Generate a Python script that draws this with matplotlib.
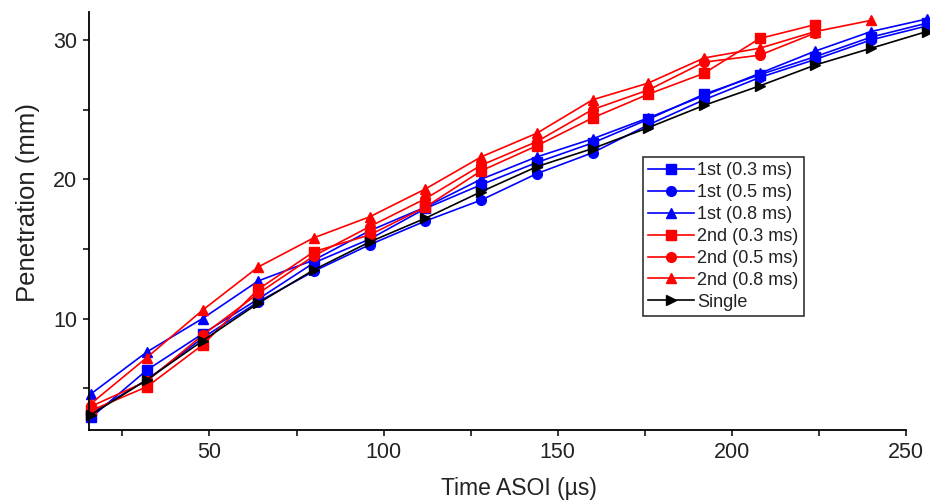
import numpy as np
import matplotlib
matplotlib.use('Agg')
import matplotlib.pyplot as plt
from matplotlib.ticker import MultipleLocator

plt.rcParams['font.family'] = ['Liberation Sans', 'DejaVu Sans']

# tiempos (us) y penetracion (mm)
tiempo = [16, 32, 48, 64, 80, 96, 112, 128, 144, 160, 176, 192, 208, 224, 240, 256]

pen_1st_03 = [2.9, 6.3, 8.9, 11.4, 14.0, 15.7, 17.9, 19.6, 21.2, 22.6, 24.3, 26.1, 27.5, 28.8, 30.2, 31.2]
pen_1st_05 = [3.2, 5.6, 8.6, 11.2, 13.4, 15.3, 17.0, 18.5, 20.4, 21.9, 23.9, 25.7, 27.3, 28.6, 30.0, 31.0]
pen_1st_08 = [4.6, 7.6, 10.0, 12.7, 14.2, 16.3, 18.0, 20.0, 21.6, 22.9, 24.4, 26.0, 27.6, 29.2, 30.6, 31.5]
pen_2nd_03 = [3.4, 5.1, 8.1, 12.1, 14.8, 16.0, 18.0, 20.6, 22.4, 24.4, 26.1, 27.6, 30.1, 31.1]
pen_2nd_05 = [3.7, 5.5, 8.8, 11.8, 14.5, 16.6, 18.6, 21.0, 22.7, 25.0, 26.4, 28.4, 28.9, 30.5]
pen_2nd_08 = [3.9, 7.2, 10.6, 13.7, 15.8, 17.3, 19.3, 21.6, 23.3, 25.7, 26.9, 28.7, 29.4, 30.6, 31.4]
pen_single = [3.1, 5.6, 8.4, 11.1, 13.5, 15.5, 17.2, 19.1, 20.9, 22.2, 23.7, 25.3, 26.7, 28.2, 29.4, 30.6]

series = [
    ('1st (0.3 ms)', pen_1st_03, 'blue', 's'),
    ('1st (0.5 ms)', pen_1st_05, 'blue', 'o'),
    ('1st (0.8 ms)', pen_1st_08, 'blue', '^'),
    ('2nd (0.3 ms)', pen_2nd_03, 'red', 's'),
    ('2nd (0.5 ms)', pen_2nd_05, 'red', 'o'),
    ('2nd (0.8 ms)', pen_2nd_08, 'red', '^'),
    ('Single', pen_single, 'black', '>'),
]

fig = plt.figure(figsize=(9.3, 5.04), dpi=100)
ax = fig.add_axes([89 / 930, 74 / 504, 817 / 930, 418 / 504])

for nombre, valores, color, marcador in series:
    ax.plot(tiempo[:len(valores)], valores, color=color, marker=marcador,
            markersize=7, linewidth=1.2, label=nombre, clip_on=False)

ax.set_xlim(15.4, 250)
ax.set_ylim(2.0, 32.0)

ax.xaxis.set_major_locator(MultipleLocator(50))
ax.xaxis.set_minor_locator(MultipleLocator(25))
ax.yaxis.set_major_locator(MultipleLocator(10))
ax.yaxis.set_minor_locator(MultipleLocator(5))

for lado in ['top', 'right']:
    ax.spines[lado].set_visible(False)
for lado in ['left', 'bottom']:
    ax.spines[lado].set_linewidth(1.3)

ax.tick_params(which='both', direction='out', length=4.5, width=1.1,
               labelsize=15.5, labelcolor='#222222', pad=4)

ax.set_xlabel('Time ASOI (µs)', fontsize=16.5, color='#222222')
ax.set_ylabel('Penetration (mm)', fontsize=18.5, color='#222222')
ax.xaxis.set_label_coords(0.526, -0.139)
ax.xaxis.label.set_va('center')
ax.yaxis.set_label_coords(-0.075, 0.545)
ax.yaxis.label.set_va('center')

leg = fig.legend(loc='upper left', bbox_to_anchor=(643 / 930, 1 - 157 / 504),
                 fontsize=13, frameon=True, fancybox=False, borderaxespad=0,
                 handlelength=2.5, handletextpad=0.2, labelspacing=0.27,
                 borderpad=0.3, markerscale=1.0)
leg.get_frame().set_edgecolor('black')
leg.get_frame().set_linewidth(1.2)
for t in leg.get_texts():
    t.set_color('#222222')

fig.savefig('out.png', dpi=100)
